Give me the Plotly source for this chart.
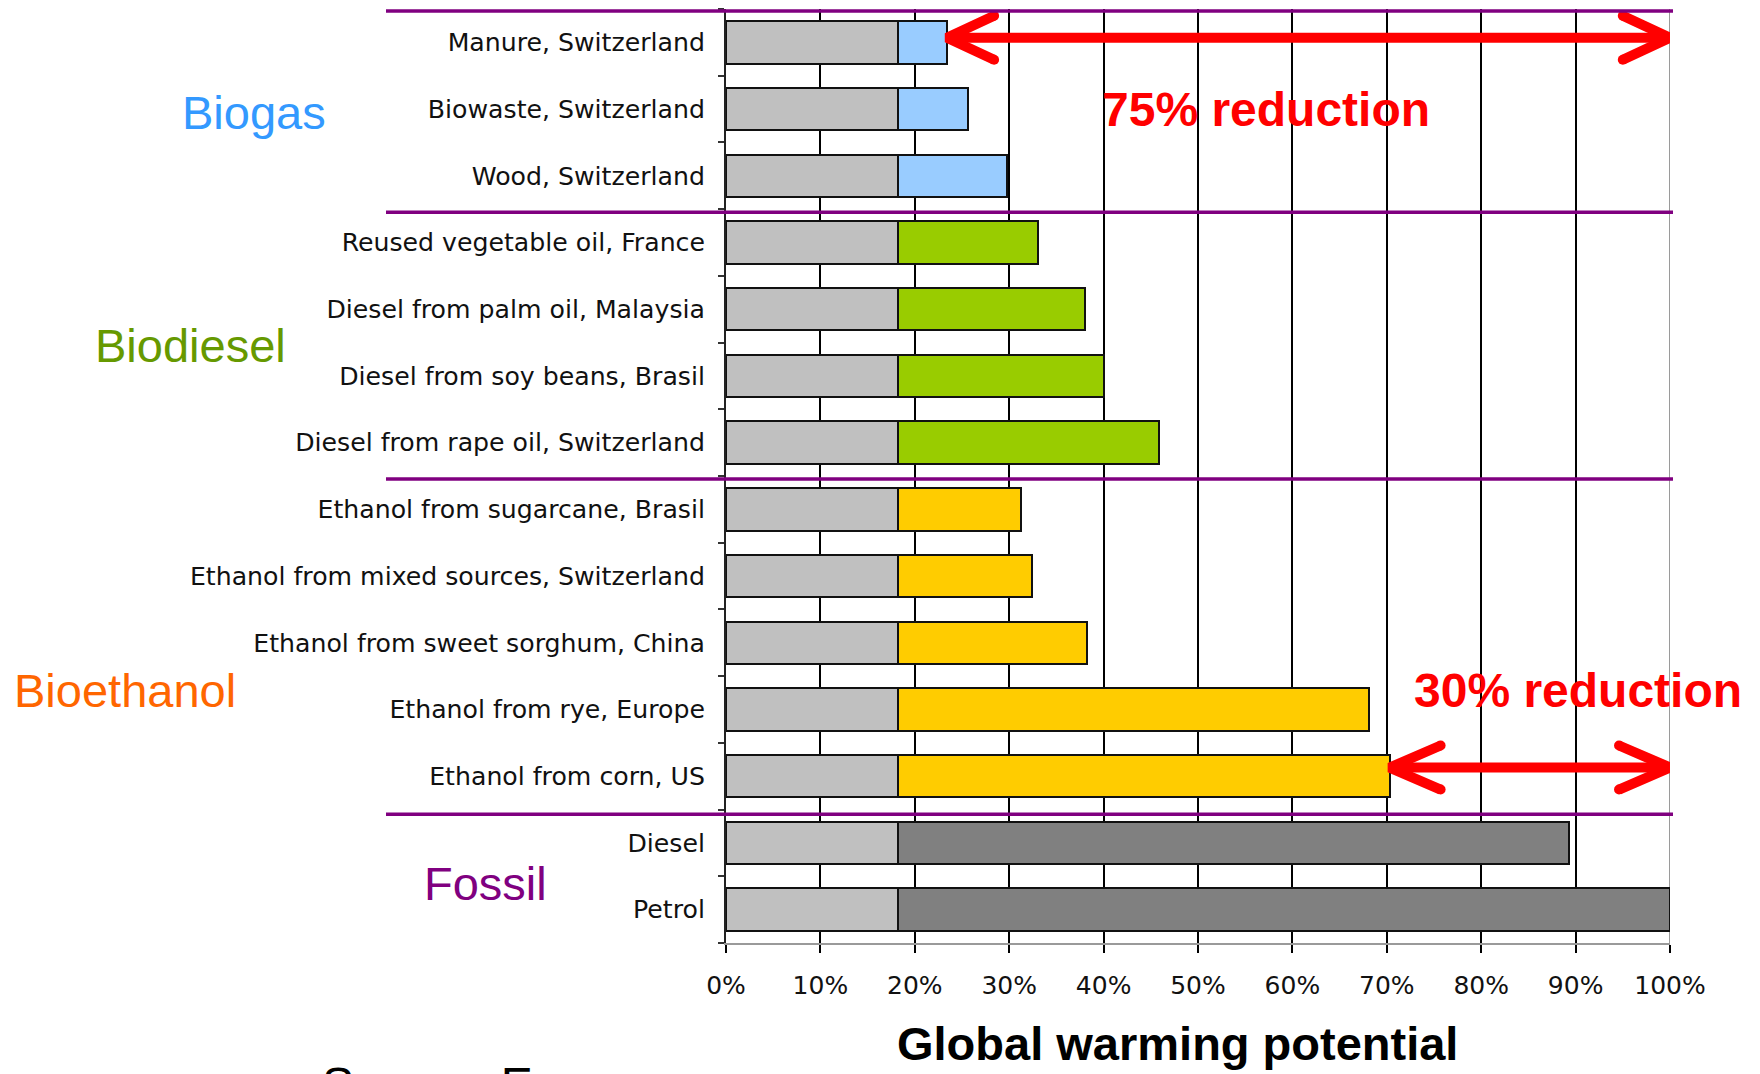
import plotly.graph_objects as go

# ---------------- data ----------------
categories = [
    "Manure, Switzerland",
    "Biowaste, Switzerland",
    "Wood, Switzerland",
    "Reused vegetable oil, France",
    "Diesel from palm oil, Malaysia",
    "Diesel from soy beans, Brasil",
    "Diesel from rape oil, Switzerland",
    "Ethanol from sugarcane, Brasil",
    "Ethanol from mixed sources, Switzerland",
    "Ethanol from sweet sorghum, China",
    "Ethanol from rye, Europe",
    "Ethanol from corn, US",
    "Diesel",
    "Petrol",
]
groups = ["Biogas"] * 3 + ["Biodiesel"] * 4 + ["Bioethanol"] * 5 + ["Fossil"] * 2
base_share = [18.2] * 14
total_gwp = [23.4, 25.6, 29.8, 33.0, 38.0, 40.0, 45.9,
             31.3, 32.4, 38.2, 68.1, 70.3, 89.3, 100.0]
x_tick_values = [0, 10, 20, 30, 40, 50, 60, 70, 80, 90, 100]
x_tick_labels = ["0%", "10%", "20%", "30%", "40%", "50%", "60%",
                 "70%", "80%", "90%", "100%"]
group_names = ["Biogas", "Biodiesel", "Bioethanol", "Fossil"]
reduction_labels = ["75% reduction", "30% reduction"]
axis_title = "Global warming potential"
source_text = "Source: Empa"

# ---------------- styles ----------------
bar_colors = {"Biogas": "#99CCFF", "Biodiesel": "#99CC00",
              "Bioethanol": "#FFCC00", "Fossil": "#808080"}
label_colors = {"Biogas": "#3399FF", "Biodiesel": "#669900",
                "Bioethanol": "#FF6600", "Fossil": "#800080"}
BASE_COLOR = "#C0C0C0"
PURPLE = "#800080"
RED = "#FF0000"

W, H = 1760, 1074
L, R, T, B = 726, 90, 9, 131
PW, PH = W - L - R, H - T - B


def px_x(px):
    return (px - L) / PW


def px_y(py):
    return (H - B - py) / PH


y_pos = list(range(len(categories)))
rest = [t - b for t, b in zip(total_gwp, base_share)]

fig = go.Figure()
fig.add_bar(orientation="h", y=y_pos, x=base_share, width=0.635,
            marker=dict(color=BASE_COLOR, line=dict(color="#111", width=2)),
            hoverinfo="skip", showlegend=False)
fig.add_bar(orientation="h", y=y_pos, x=rest, width=0.635,
            marker=dict(color=[bar_colors[g] for g in groups],
                        line=dict(color="#111", width=2)),
            hoverinfo="skip", showlegend=False)


def add_arrow(x_left, x_right, yc, dx, dy):
    xs = [x_left + dx, x_left, x_left + dx, None, x_left, x_right, None,
          x_right - dx, x_right, x_right - dx]
    ys = [yc - dy, yc, yc + dy, None, yc, yc, None, yc - dy, yc, yc + dy]
    fig.add_scatter(x=xs, y=ys, mode="lines", line=dict(color=RED, width=10),
                    hoverinfo="skip", showlegend=False, cliponaxis=False)
    fig.add_scatter(x=[x_left + dx, x_left + dx, x_right - dx, x_right - dx],
                    y=[yc - dy, yc + dy, yc - dy, yc + dy], mode="markers",
                    marker=dict(color=RED, size=10), hoverinfo="skip",
                    showlegend=False, cliponaxis=False)


i_top = 0
i_bot = categories.index("Ethanol from corn, US")
add_arrow(total_gwp[i_top], 100, i_top - 0.07, 5.0, 0.33)
add_arrow(total_gwp[i_bot], 100, i_bot - 0.13, 5.4, 0.33)

shapes = []
# purple group separators
bounds = [-0.5]
count = 0
for g in group_names:
    count += groups.count(g)
    bounds.append(count - 0.5)
offsets = [0.03, 0.045, 0.045, 0.07, 0.075]
for b, off in zip(bounds, offsets):
    shapes.append(dict(type="line", xref="paper", yref="y",
                       x0=px_x(386), x1=px_x(1673), y0=b + off, y1=b + off,
                       line=dict(color=PURPLE, width=3.5), layer="above"))
# right border (gray)
shapes.append(dict(type="line", xref="x", yref="paper", x0=100, x1=100,
                   y0=0, y1=1, line=dict(color="#9a9a9a", width=2),
                   layer="between"))

annotations = []
group_label_px = {"Biogas": (254, 112), "Biodiesel": (190, 345),
                  "Bioethanol": (125, 690), "Fossil": (485, 883)}
for g in group_names:
    gx, gy = group_label_px[g]
    annotations.append(dict(text=g, xref="paper", yref="paper",
                            x=px_x(gx), y=px_y(gy), xanchor="center",
                            yanchor="middle", showarrow=False,
                            font=dict(family="Liberation Sans, Arial",
                                      size=47, color=label_colors[g])))
annotations.append(dict(text=reduction_labels[0], xref="x", yref="y",
                        x=57.2, y=1.0, xanchor="center", yanchor="middle",
                        showarrow=False,
                        font=dict(family="Liberation Sans, Arial", size=48,
                                  color=RED, weight="bold")))
annotations.append(dict(text=reduction_labels[1], xref="x", yref="y",
                        x=90.3, y=9.71, xanchor="center", yanchor="middle",
                        showarrow=False,
                        font=dict(family="Liberation Sans, Arial", size=48,
                                  color=RED, weight="bold")))
annotations.append(dict(text=axis_title, xref="paper", yref="paper",
                        x=px_x(1177), y=px_y(1043), xanchor="center",
                        yanchor="middle", showarrow=False,
                        font=dict(family="Liberation Sans, Arial", size=47,
                                  color="black", weight="bold")))
annotations.append(dict(text=source_text, xref="paper", yref="paper",
                        x=px_x(320), y=px_y(1056), xanchor="left",
                        yanchor="top", showarrow=False,
                        font=dict(family="Liberation Sans, Arial", size=48,
                                  color="black")))

fig.update_layout(
    width=W, height=H,
    margin=dict(l=L, r=R, t=T, b=B, pad=0),
    plot_bgcolor="white", paper_bgcolor="white",
    barmode="stack", showlegend=False,
    shapes=shapes, annotations=annotations,
    xaxis=dict(range=[0, 100], tickmode="array", tickvals=x_tick_values,
               ticktext=x_tick_labels, showgrid=True, gridcolor="#000",
               gridwidth=2, showline=True, linecolor="#9a9a9a", linewidth=2,
               ticks="outside", ticklen=8, tickwidth=2, tickcolor="#000",
               zeroline=False, ticklabelstandoff=11,
               tickfont=dict(family="DejaVu Sans", size=25, color="#111")),
    yaxis=dict(range=[13.5, -0.5], tickmode="array", tickvals=y_pos,
               ticktext=categories, ticks="", showgrid=False, zeroline=False,
               showline=True, linecolor="#222", linewidth=2,
               ticklabelstandoff=14,
               tickfont=dict(family="DejaVu Sans", size=25.2, color="#111"),
               minor=dict(tickmode="array",
                          tickvals=[k - 0.5 for k in range(len(categories) + 1)],
                          ticks="outside", ticklen=6, tickwidth=2,
                          tickcolor="#333", showgrid=False)),
)

fig.write_html("out.html")
